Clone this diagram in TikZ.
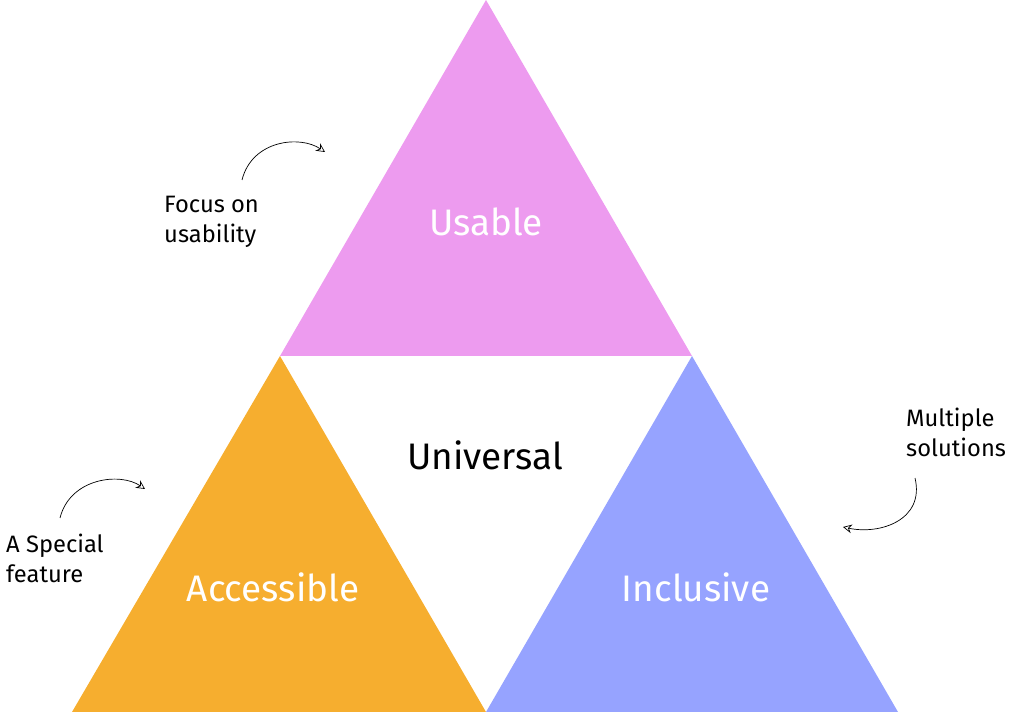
\documentclass[tikz,border=0pt]{standalone}
\usepackage{fontspec}
\setmainfont{Fira Sans}
\usetikzlibrary{arrows.meta}
\definecolor{pinkU}{HTML}{ED9BEF}
\definecolor{orangeA}{HTML}{F6AE2F}
\definecolor{blueI}{HTML}{96A3FF}
\tikzset{
    big/.style={font=\fontsize{21}{24}\selectfont},
    small/.style={font=\fontsize{13.5}{17}\selectfont, align=left},
    note/.style={-{Stealth[open,length=5pt,width=5pt]}, thin},
}
\begin{document}
\begin{tikzpicture}[x=0.02cm,y=-0.02cm]
    \useasboundingbox (0,0) rectangle (1024,712);
    \fill[pinkU] (486,0) -- (692,356) -- (280,356) -- cycle;
    \fill[orangeA] (280,356) -- (486,712) -- (72,712) -- cycle;
    \fill[blueI] (692,356) -- (898,712) -- (486,712) -- cycle;

    \node[big,white] (usable) at (486,222) {Usable};
    \node[big,white] (access) at (273,587) {Accessible};
    \node[big,white] (incl) at (696,587) {Inclusive};
    \node[big] (univ) at (485,455) {Universal};

    \node[small,anchor=west] (focus) at (158,222) {Focus on\\usability};
    \node[small,anchor=west] (special) at (0,558) {A Special\\feature};
    \node[small,anchor=west] (multi) at (900,432) {Multiple\\solutions};

    \coordinate (f1) at (242,180);
    \coordinate (f2) at (325,152);
    \coordinate (s1) at (60,518);
    \coordinate (s2) at (145,489);
    \coordinate (m1) at (915,478);
    \coordinate (m2) at (843,527);
    \draw[note] (f1) .. controls (252,140) and (300,135) .. (f2);
    \draw[note] (s1) .. controls (70,478) and (120,472) .. (s2);
    \draw[note] (m1) .. controls (925,520) and (880,535) .. (m2);
\end{tikzpicture}
\end{document}
